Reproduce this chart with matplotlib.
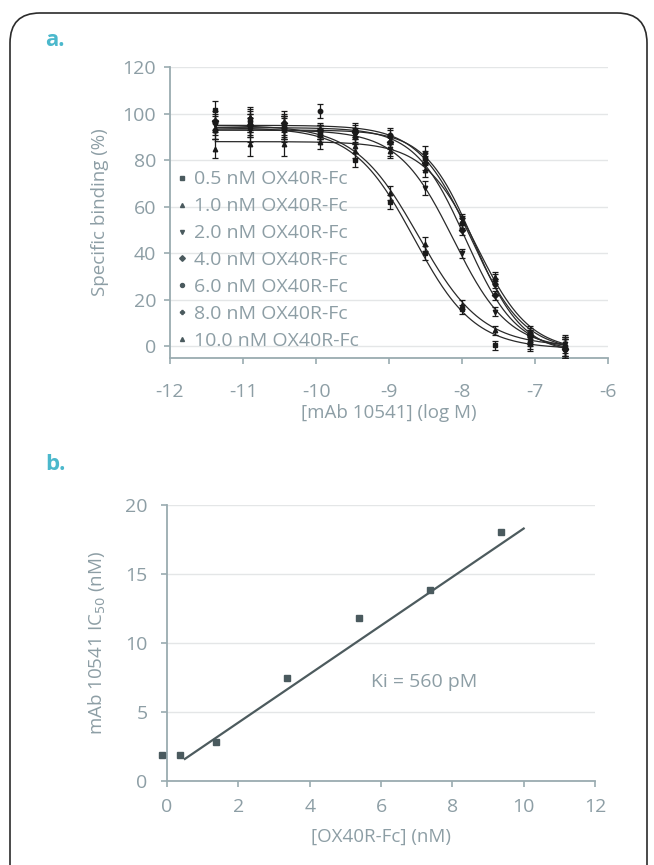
import numpy as np
import matplotlib
matplotlib.use("Agg")
import matplotlib.pyplot as plt
from matplotlib.patches import FancyBboxPatch
from matplotlib.transforms import IdentityTransform

plt.rcParams['font.family'] = ['Open Sans', 'DejaVu Sans']

# ---- panel a data: competition curves ----
log_conc = [-11.38, -10.91, -10.44, -9.95, -9.47, -8.99, -8.51, -8.00, -7.55, -7.07, -6.59]
series_labels = ["0.5 nM OX40R-Fc", "1.0 nM OX40R-Fc", "2.0 nM OX40R-Fc", "4.0 nM OX40R-Fc",
                 "6.0 nM OX40R-Fc", "8.0 nM OX40R-Fc", "10.0 nM OX40R-Fc"]
binding = [
    [101.5, 95, 94, 91, 80, 62, 40, 16, 0.5, 1, -1],
    [93, 96, 95, 92, 84, 66, 44, 18, 7, 2, 0],
    [95, 93, 94, 92, 91, 85, 68, 40, 15, 4, 1],
    [97, 95, 96, 93, 92, 88, 79, 50, 22, 5, -1],
    [93, 97, 94, 101, 93, 91, 81, 53, 27, 6, 0],
    [96, 98, 93, 92, 90, 90, 83, 55, 29, 4, -1],
    [85, 87, 87, 88, 86, 84, 76, 54, 30, 3, 0],
]
binding_err = [4, 5, 5, 3, 3, 3, 3, 2, 2, 3, 4]
# 4-parameter logistic fit parameters per series
fit_top = [94, 95, 93, 94, 95, 93, 88]
fit_bottom = [-1, 0, -1, -2, -2, -3, -2]
fit_logic50 = [-8.66, -8.60, -8.12, -7.95, -7.88, -7.84, -7.80]
fit_hill = [1.05, 1.0, 1.15, 1.25, 1.2, 1.3, 1.2]
markers = ['s', '^', 'v', 'D', 'o', 'P', '^']

# ---- panel b data: IC50 vs receptor concentration ----
receptor_nM = [-0.13, 0.37, 1.37, 3.37, 5.37, 7.37, 9.37]
ic50_nM = [1.86, 1.86, 2.83, 7.47, 11.83, 13.84, 18.07]
fit_line_x = [0.5, 10.0]
fit_line_y = [1.6, 18.3]

text_col = '#8d9ea5'
spine_col = '#9aabb0'
grid_col = '#e4e6e7'
label_col = '#4bb8cc'

fig = plt.figure(figsize=(6.54, 8.65), dpi=100)


def style_axes(ax):
    for s in ['top', 'right']:
        ax.spines[s].set_visible(False)
    for s in ['left', 'bottom']:
        ax.spines[s].set_color(spine_col)
        ax.spines[s].set_linewidth(1.3)
    ax.grid(axis='y', color=grid_col, linewidth=1.0)
    ax.set_axisbelow(True)
    ax.tick_params(colors=spine_col, labelcolor=text_col, labelsize=14, length=4, width=1.2)


# panel a
ax1 = fig.add_axes([0.26, 0.586, 0.67, 0.3364])
style_axes(ax1)
xs = np.linspace(log_conc[0], log_conc[-1], 300)
for i in range(len(series_labels)):
    curve = fit_bottom[i] + (fit_top[i] - fit_bottom[i]) / (1 + 10 ** (fit_hill[i] * (xs - fit_logic50[i])))
    ax1.plot(xs, curve, color='#2a2a2a', linewidth=0.9, zorder=2)
    ax1.errorbar(log_conc, binding[i], yerr=binding_err, fmt='none', ecolor='#1a1a1a',
                 elinewidth=0.9, capsize=2.5, capthick=0.9, zorder=3)
    ax1.plot(log_conc, binding[i], linestyle='none', marker=markers[i], markersize=3.2,
             color='#1a1a1a', label=series_labels[i], zorder=4)
ax1.set_xlim(-12, -6)
ax1.set_ylim(-5, 120)
ax1.set_xticks(range(-12, -5))
ax1.set_xticklabels([str(v) for v in range(-12, -5)])
ax1.set_yticks(range(0, 121, 20))
ax1.tick_params(axis='x', pad=14)
ax1.tick_params(axis='y', pad=6)
ax1.set_xlabel("[mAb 10541] (log M)", color=text_col, fontsize=13.5, labelpad=2)
ax1.set_ylabel("Specific binding (%)", color=text_col, fontsize=13.5, labelpad=10)
leg = ax1.legend(loc='upper left', bbox_to_anchor=(0.016, 0.645), frameon=False, fontsize=14,
                 handlelength=0.5, handletextpad=0.35, labelspacing=0.46, borderpad=0,
                 borderaxespad=0, labelcolor=text_col, markerscale=0.9)
for h in leg.legend_handles:
    h.set_color('#4a5a5e')

# panel b
ax2 = fig.add_axes([0.2554, 0.0971, 0.6544, 0.319])
style_axes(ax2)
ax2.plot(fit_line_x, fit_line_y, color='#4d5b5e', linewidth=1.6, zorder=2)
ax2.plot(receptor_nM, ic50_nM, linestyle='none', marker='s', markersize=5, color='#4a5a5e',
         clip_on=False, zorder=3)
ax2.set_xlim(0, 12)
ax2.set_ylim(0, 20)
ax2.set_xticks(range(0, 13, 2))
ax2.set_yticks(range(0, 21, 5))
ax2.tick_params(axis='x', pad=8)
ax2.tick_params(axis='y', pad=10)
ax2.set_xlabel("[OX40R-Fc] (nM)", color=text_col, fontsize=13.5, labelpad=9)
ax2.set_ylabel("mAb 10541 IC$_{50}$ (nM)", color=text_col, fontsize=13.5, labelpad=12)
ax2.text(5.73, 7.2, "Ki = 560 pM", color=text_col, fontsize=14, va='center', ha='left')

# panel letters
fig.text(45 / 654, 1 - 40 / 865, "a.", color=label_col, fontsize=16, fontweight='bold', va='center')
fig.text(45 / 654, 1 - 465 / 865, "b.", color=label_col, fontsize=16, fontweight='bold', va='center')

# rounded frame around the figure
frame = FancyBboxPatch((10, -60), 637, 865 - 13 + 60, boxstyle="round,pad=0,rounding_size=30",
                       transform=IdentityTransform(), facecolor='none', edgecolor='#2b2b2b',
                       linewidth=1.2)
fig.patches.append(frame)

fig.savefig("out.png", dpi=100)
